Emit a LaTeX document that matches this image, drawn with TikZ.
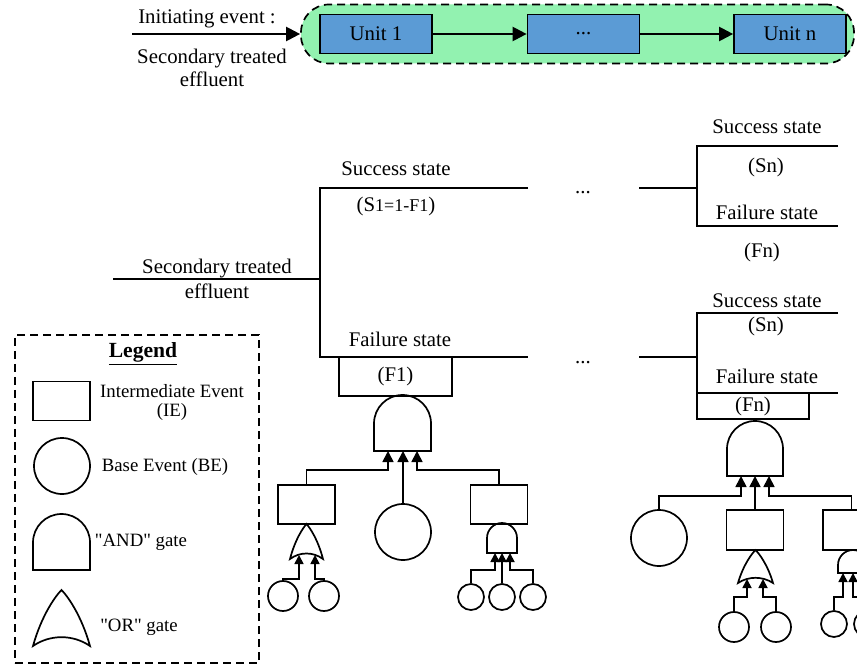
\documentclass[tikz,border=0pt]{standalone}
\usepackage{fontspec}
\setmainfont{Liberation Serif}
\usetikzlibrary{arrows.meta}
\definecolor{chaingreen}{RGB}{146,242,176}
\definecolor{unitblue}{RGB}{91,155,213}
% straight double quote, kept out of the TeX quote mapping
\newcommand{\sq}{\XeTeXglyph\XeTeXcharglyph"22\relax}
\tikzset{
  chainbox/.style={draw, dash pattern=on 4pt off 2.5pt, rounded corners=14pt, fill=chaingreen, minimum width=276.5pt, minimum height=29.5pt},
  unit/.style={draw, fill=unitblue, minimum width=56pt, minimum height=19.5pt},
  iebox/.style={draw, minimum width=28.5pt, minimum height=19.5pt, inner sep=0pt},
  bevent/.style={draw, circle, minimum size=28pt, inner sep=0pt},
  smallbe/.style={draw, circle, minimum size=15pt, inner sep=0pt},
  tinybe/.style={draw, circle, minimum size=13pt, inner sep=0pt},
  legendbox/.style={draw, dash pattern=on 4pt off 2.5pt, minimum width=122pt, minimum height=164pt},
  bigarrow/.style={-{Triangle[length=7pt,width=7pt]}, line width=1.1pt},
  fta/.style={-{Triangle[length=5.5pt,width=5.5pt]}},
  ftsmall/.style={-{Triangle[length=4.5pt,width=4.5pt]}},
  % fault tree gates, anchored at the middle of their input side
  pics/andgate/.style args={#1/#2}{code={
    \draw (-#1/2,0) -- (-#1/2,#2-#1/2) arc[start angle=180, end angle=0, radius=#1/2] -- (#1/2,0) -- cycle;
  }},
  pics/orgate/.style args={#1/#2}{code={
    \draw (-#1/2,0) .. controls (-0.35*#1,0.55*#2) and (-0.1*#1,0.9*#2) .. (0,#2)
      .. controls (0.1*#1,0.9*#2) and (0.35*#1,0.55*#2) .. (#1/2,0)
      .. controls (0.2*#1,0.21*#2) and (-0.2*#1,0.21*#2) .. cycle;
  }},
}
\begin{document}
\begin{tikzpicture}[x=0.5pt, y=0.5pt, line width=0.85pt, font=\fontsize{10.4}{12.5}\selectfont]
  \useasboundingbox (0,0) rectangle (857,665);
  \clip (0,0) rectangle (857,665);

  % Initiating event and treatment units
  \node[chainbox] (chain) at (577.5,631) {};
  \node[unit] (u1) at (376,631) {Unit 1};
  \node[unit] (u2) at (583.5,631) {...};
  \node[unit] (u3) at (790,631) {Unit n};
  \coordinate (ie0) at (132,631);
  \node (ielabel) at (207,646) {Initiating event :};
  \node[align=center] (ietext) at (212,597) {Secondary treated\\[-1pt]effluent};
  \draw[bigarrow] (ie0) -- (chain.west);
  \draw[bigarrow] (u1) -- (u2);
  \draw[bigarrow] (u2) -- (u3);

  % Event tree - first unit
  \coordinate (e0) at (113,386);
  \coordinate (e1) at (320,386);
  \coordinate (s1a) at (320,477);
  \coordinate (s1b) at (528,477);
  \coordinate (f1a) at (320,308);
  \coordinate (f1b) at (528,308);
  \draw (e0) -- (e1);
  \draw (s1b) -- (s1a) -- (f1a) -- (f1b);
  \node[align=center] (ietree) at (217,386) {Secondary treated\\effluent};
  \node (s1lab) at (396,496) {Success state};
  \node (s1val) at (396,458) {(S{\small 1=1-F1})};
  \node (f1lab) at (400,326) {Failure state};
  \node (dots1) at (583,472) {...};
  \node (dots2) at (583,302) {...};
  \node[iebox, minimum width=56.5pt] (f1box) at (395.5,288.5) {(F1)};

  % Fault tree under (F1)
  \pic at (402.5,214) {andgate=57/56};
  \coordinate (g1a) at (388,214);
  \coordinate (g1b) at (403,214);
  \coordinate (g1c) at (417,214);
  \node[iebox] (b1) at (306.5,160.5) {};
  \node[bevent] (c1) at (403,133) {};
  \node[iebox] (b2) at (499,160.5) {};
  \draw[fta] (b1.north) -- ++(0,14) -| (g1a);
  \draw[fta] (c1.north) -- (g1b);
  \draw[fta] (b2.north) -- ++(0,14) -| (g1c);

  \pic at (306.5,106) {orgate=33/35};
  \coordinate (o1a) at (299,110);
  \coordinate (o1b) at (315,110);
  \node[smallbe] (c11) at (283,69) {};
  \node[smallbe] (c12) at (324,69) {};
  \draw[ftsmall] (c11.north) -- ++(0,1) -| (o1a);
  \draw[ftsmall] (c12.north) -- ++(0,1) -| (o1b);

  \pic at (502,112) {andgate=30/30};
  \coordinate (a1a) at (495,112);
  \coordinate (a1b) at (502,112);
  \coordinate (a1c) at (510,112);
  \node[tinybe] (c21) at (471,68) {};
  \node[tinybe] (c22) at (502,68) {};
  \node[tinybe] (c23) at (533,68) {};
  \draw[ftsmall] (c21.north) -- ++(0,13) -| (a1a);
  \draw[ftsmall] (c22.north) -- (a1b);
  \draw[ftsmall] (c23.north) -- ++(0,13) -| (a1c);

  % Event tree - unit n, after success
  \coordinate (n0) at (639,477);
  \coordinate (n1) at (697,477);
  \coordinate (sna) at (697,519);
  \coordinate (snb) at (838,519);
  \coordinate (fna) at (697,439);
  \coordinate (fnb) at (838,439);
  \draw (n0) -- (n1);
  \draw (snb) -- (sna) -- (fna) -- (fnb);
  \node (snlab) at (767,538) {Success state};
  \node (snval) at (766,498) {(Sn)};
  \node (fnlab) at (767,453) {Failure state};
  \node (fnval) at (762,413) {(Fn)};

  % Event tree - unit n, after failure
  \coordinate (m0) at (639,308);
  \coordinate (m1) at (697,308);
  \coordinate (sma) at (697,352);
  \coordinate (smb) at (838,352);
  \coordinate (fma) at (697,272);
  \coordinate (fmb) at (838,272);
  \draw (m0) -- (m1);
  \draw (smb) -- (sma) -- (fma) -- (fmb);
  \node (smlab) at (767,364) {Success state};
  \node (smval) at (766,339) {(Sn)};
  \node (fmlab) at (767,289) {Failure state};
  \node[iebox, minimum width=56pt, minimum height=13pt] (fnbox) at (753,259) {(Fn)};

  % Fault tree under (Fn)
  \pic at (755,189) {andgate=56/55};
  \coordinate (g2a) at (741,189);
  \coordinate (g2b) at (755,189);
  \coordinate (g2c) at (769,189);
  \node[bevent] (c3) at (659,127) {};
  \node[iebox, minimum height=20pt] (b3) at (755,135) {};
  \node[iebox, minimum height=20pt] (b4) at (851.5,135) {};
  \draw[fta] (c3.north) -- ++(0,13) -| (g2a);
  \draw[fta] (b3.north) -- (g2b);
  \draw[fta] (b4.north) -- ++(0,13) -| (g2c);

  \pic at (755.5,82) {orgate=35/33};
  \coordinate (o2a) at (747,86);
  \coordinate (o2b) at (763,86);
  \node[smallbe] (c41) at (734,38) {};
  \node[smallbe] (c42) at (776,38) {};
  \draw[ftsmall] (c41.north) -- ++(0,14) -| (o2a);
  \draw[ftsmall] (c42.north) -- ++(0,14) -| (o2b);

  \pic at (853,92) {andgate=30/23};
  \coordinate (a3a) at (843,92);
  \coordinate (a3b) at (853,92);
  \node[tinybe] (c61) at (834,41) {};
  \node[tinybe] (c62) at (867,41) {};
  \draw[ftsmall] (c61.north) -- ++(0,13) -| (a3a);
  \draw[ftsmall] (c62.north) -- ++(0,13) -| (a3b);

  % Legend
  \node[legendbox] (legend) at (137,166) {};
  \node (legtitle) at (143,311) {\fontsize{10.8}{12}\selectfont\textbf{\underline{Legend}}};
  \begin{scope}[font=\fontsize{9.4}{9.5}\selectfont]
    \node[iebox] (legie) at (61.5,264) {};
    \node[align=center] (legietext) at (172,262.5) {Intermediate Event\\(IE)};
    \node[bevent] (legbe) at (62,199) {};
    \node (legbetext) at (165,198) {Base Event (BE)};
    \pic at (61.5,95) {andgate=57/56};
    \node (legandtext) at (141,123) {\sq AND\sq{} gate};
    \pic at (61.5,19) {orgate=57/56};
    \node (legortext) at (139,38) {\sq OR\sq{} gate};
  \end{scope}
\end{tikzpicture}
\end{document}
